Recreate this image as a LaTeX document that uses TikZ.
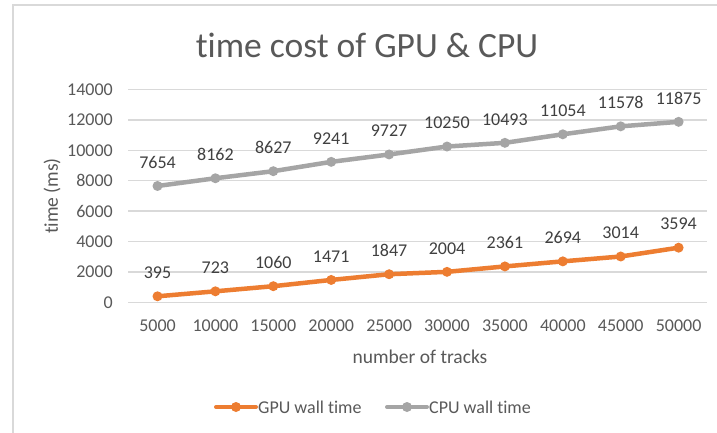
\documentclass[tikz,border=0pt]{standalone}
\usepackage{fontspec}
\setmainfont{Carlito}[Ligatures=NoCommon]
\definecolor{gpuorange}{HTML}{ED7D31}
\definecolor{cpugray}{HTML}{A5A5A5}
\definecolor{gridgray}{HTML}{D9D9D9}
\definecolor{ticktext}{HTML}{595959}
\definecolor{labeltext}{HTML}{404040}
\tikzset{
  gridline/.style={draw=gridgray, line width=1.5pt},
  frameline/.style={draw=gridgray, line width=2pt},
  ticklabel/.style={text=ticktext, font=\fontsize{18}{20}\selectfont, inner sep=0pt},
  axistitle/.style={text=ticktext, font=\fontsize{19.5}{22}\selectfont, inner sep=0pt},
  datalabel/.style={text=labeltext, font=\fontsize{18}{20}\selectfont, inner sep=0pt},
  charttitle/.style={text=ticktext, font=\fontsize{35.5}{40}\selectfont, inner sep=0pt},
  gpumark/.style={circle, fill=gpuorange, inner sep=0pt, minimum size=10pt},
  cpumark/.style={circle, fill=cpugray, inner sep=0pt, minimum size=10pt},
  gpuline/.style={draw=gpuorange, line width=4.5pt, line join=round, line cap=round},
  cpuline/.style={draw=cpugray, line width=4.5pt, line join=round, line cap=round},
}
\begin{document}
\begin{tikzpicture}[x=1pt, y=-1pt]
\useasboundingbox (0,0) rectangle (717,433);
\fill[white] (0,0) rectangle (717,433);

% chart frame (runs past the right and bottom edges)
\draw[frameline] (724,5.5) -- (12.5,5.5) -- (12.5,440);

% title
\node[charttitle] (title) at (367,45) {time cost of GPU \& CPU};

% horizontal grid and value axis labels
\foreach \v in {0,2000,...,14000} {
  \pgfmathsetmacro\yy{302.3-0.0152*\v}
  \coordinate (gl\v) at (128,\yy);
  \coordinate (gr\v) at (707,\yy);
  \draw[gridline] (gl\v) -- (gr\v);
  \node[ticklabel, anchor=east] (yt\v) at (113,\yy) {\v};
}

% category axis labels
\foreach \c [count=\i from 0] in {5000,10000,15000,20000,25000,30000,35000,40000,45000,50000} {
  \pgfmathsetmacro\xx{157.5+57.9*\i}
  \node[ticklabel] (xt\i) at (\xx,325.5) {\c};
}

% axis titles
\node[axistitle] (xtitle) at (420,357) {number of tracks};
\node[axistitle, rotate=90] (ytitle) at (52,196) {time (ms)};

% CPU series
\foreach \v [count=\i] in {7654,8162,8627,9241,9727,10250,10493,11054,11578,11875} {
  \pgfmathsetmacro\xx{157.5+57.9*(\i-1)}
  \pgfmathsetmacro\yy{302.3-0.0152*\v}
  \pgfmathsetmacro\ly{\yy-23.5}
  \node[cpumark] (c\i) at (\xx,\yy) {};
  \node[datalabel] (cl\i) at (\xx,\ly) {\v};
}
\draw[cpuline] (c1.center) \foreach \i in {2,...,10} { -- (c\i.center) };

% GPU series
\foreach \v [count=\i] in {395,723,1060,1471,1847,2004,2361,2694,3014,3594} {
  \pgfmathsetmacro\xx{157.5+57.9*(\i-1)}
  \pgfmathsetmacro\yy{302.3-0.0152*\v}
  \pgfmathsetmacro\ly{\yy-23.5}
  \node[gpumark] (g\i) at (\xx,\yy) {};
  \node[datalabel] (glab\i) at (\xx,\ly) {\v};
}
\draw[gpuline] (g1.center) \foreach \i in {2,...,10} { -- (g\i.center) };

% legend
\coordinate (lga) at (216,407);
\coordinate (lgb) at (256,407);
\draw[gpuline, line width=4pt] (lga) -- (lgb);
\node[gpumark] (lgm) at (236,407) {};
\node[ticklabel, anchor=west] (lgt) at (258,407) {GPU wall time};
\coordinate (lca) at (387,407);
\coordinate (lcb) at (427,407);
\draw[cpuline, line width=4pt] (lca) -- (lcb);
\node[cpumark] (lcm) at (407,407) {};
\node[ticklabel, anchor=west] (lct) at (429,407) {CPU wall time};
\end{tikzpicture}
\end{document}
